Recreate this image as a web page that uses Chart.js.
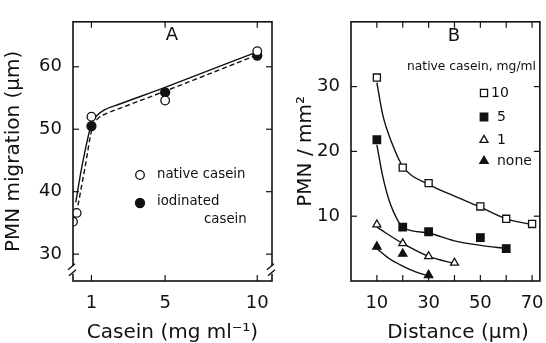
<!DOCTYPE html>
<html>
<head>
<meta charset="utf-8">
<script src="https://cdn.jsdelivr.net/npm/chart.js@4/dist/chart.umd.min.js"></script>
<style>
  html, body { margin: 0; padding: 0; background: #fff; overflow: hidden; }
  #wrap { position: relative; width: 546px; height: 343px; }
  #chartA { position: absolute; left: 0; top: 0; width: 285px; height: 343px; }
  #chartB { position: absolute; left: 290px; top: 0; width: 266px; height: 343px; }
</style>
</head>
<body>
<div id="wrap">
  <canvas id="chartA" width="285" height="343"></canvas>
  <canvas id="chartB" width="266" height="343"></canvas>
</div>
<script>
// ---- panel A: migration vs casein concentration ----
const caseinNative = [0, 0.2, 1, 5, 10];
const migrationNative = [35.2, 36.6, 52.0, 54.6, 62.5];
const caseinIodinated = [1, 5, 10];
const migrationIodinated = [50.5, 55.9, 61.8];
// fitted curves
const fitNativeX = [0.15, 0.45, 1, 1.3, 1.7, 2.5, 5, 10];
const fitNativeY = [38.3, 43.5, 50.8, 52.2, 53.1, 54.0, 56.7, 62.4];
const fitIodinatedX = [0.27, 0.63, 1.05, 1.35, 1.8, 2.5, 5, 10];
const fitIodinatedY = [37.8, 43.5, 50.3, 51.7, 52.5, 53.3, 56.1, 61.9];
const caseinTicks = [1, 5, 10];
const migrationTicks = [30, 40, 50, 60];

// ---- panel B: PMN density vs distance ----
const dist10 = [10, 20, 30, 50, 60, 70];
const pmn10 = [31.4, 17.5, 15.1, 11.5, 9.6, 8.8];
const dist5 = [10, 20, 30, 50, 60];
const pmn5 = [21.8, 8.3, 7.6, 6.7, 5.0];
const dist1 = [10, 20, 30, 40];
const pmn1 = [8.7, 5.8, 3.8, 2.8];
const distNone = [10, 20, 30];
const pmnNone = [5.3, 4.2, 0.9];
const fit10X = [10, 12.3, 16, 20, 30, 40, 50, 60, 70];
const fit10Y = [30.6, 25.6, 21.1, 17.7, 14.9, 13.1, 11.4, 9.6, 8.7];
const fit5X = [10, 12.3, 15, 18, 20, 30, 40, 50, 60];
const fit5Y = [21.0, 16.1, 12.1, 9.4, 8.3, 7.4, 6.2, 5.5, 5.0];
const fit1X = [10, 20, 30, 40];
const fit1Y = [8.3, 5.8, 3.8, 2.7];
const fitNoneX = [10, 15, 20, 25, 30];
const fitNoneY = [5.0, 3.4, 2.3, 1.4, 0.8];
const distanceTickLabels = [10, 30, 50, 70];
const distanceTickMarks = [10, 20, 30, 40, 50, 60, 70];
const pmnTicks = [10, 20, 30];

const INK = '#111';
const FONT = 'DejaVu Sans';
Chart.defaults.font.family = FONT;
Chart.defaults.color = INK;

const pts = (xs, ys) => xs.map((x, i) => ({ x: x, y: ys[i] }));

function marks(xs, ys, style, filled, r) {
  return {
    data: pts(xs, ys), showLine: false,
    pointStyle: style, pointRadius: r,
    pointBackgroundColor: filled ? INK : '#fff',
    pointBorderColor: INK, pointBorderWidth: 1.3
  };
}
function curve(xs, ys, dash) {
  return {
    data: pts(xs, ys), showLine: true, pointRadius: 0,
    borderColor: INK, borderWidth: 1.4, borderDash: dash || [],
    cubicInterpolationMode: 'monotone', order: 10
  };
}

// frame with inward ticks on all four sides, optional axis break
const frame = {
  id: 'frame',
  afterDraw(chart, args, o) {
    const { ctx, chartArea: a } = chart;
    const x = chart.scales.x, y = chart.scales.y;
    const line = (x1, y1, x2, y2) => { ctx.beginPath(); ctx.moveTo(x1, y1); ctx.lineTo(x2, y2); ctx.stroke(); };
    ctx.save();
    ctx.strokeStyle = INK;
    ctx.lineWidth = 1.6;
    ctx.strokeRect(a.left, a.top, a.right - a.left, a.bottom - a.top);
    ctx.lineWidth = 1.2;
    o.xMarks.forEach(v => {
      const px = x.getPixelForValue(v);
      line(px, a.bottom, px, a.bottom - 6);
      line(px, a.top, px, a.top + 6);
    });
    o.yMarks.forEach(v => {
      const py = y.getPixelForValue(v);
      line(a.left, py, a.left + 6, py);
      line(a.right, py, a.right - 6, py);
    });
    if (o.breakAt) {
      const py = y.getPixelForValue(o.breakAt);
      [a.left, a.right].forEach(px => {
        ctx.fillStyle = '#fff';
        ctx.fillRect(px - 3, py - 4, 6, 8);
        ctx.lineWidth = 1.4;
        line(px - 5, py, px + 2, py - 6);
        line(px - 4, py + 6, px + 3, py);
      });
    }
    ctx.restore();
  }
};

// panel letter, hand-placed key and any free text
const key = {
  id: 'key',
  afterDraw(chart, args, o) {
    const ctx = chart.ctx;
    ctx.save();
    ctx.fillStyle = INK;
    ctx.strokeStyle = INK;
    ctx.textBaseline = 'middle';
    ctx.textAlign = 'center';
    ctx.font = '18px "' + FONT + '"';
    ctx.fillText(o.letter[0], o.letter[1], o.letter[2]);
    (o.texts || []).forEach(t => {
      ctx.textAlign = t[4] || 'left';
      ctx.font = t[3] + 'px "' + FONT + '"';
      ctx.fillText(t[0], t[1], t[2]);
    });
    (o.symbols || []).forEach(s => {
      ctx.fillStyle = s.filled ? INK : '#fff';
      ctx.lineWidth = 1.3;
      Chart.helpers.drawPoint(ctx, { pointStyle: s.style, radius: s.r, borderWidth: 1.3, rotation: 0 }, s.x, s.y);
    });
    ctx.restore();
  }
};

const tickFont = { family: FONT, size: 18 };
const titleFont = { family: FONT, size: 20, lineHeight: 1 };

// ---------- panel A ----------
new Chart(document.getElementById('chartA'), {
  type: 'scatter',
  data: {
    datasets: [
      marks(caseinNative, migrationNative, 'circle', false, 4.3),
      marks(caseinIodinated, migrationIodinated, 'circle', true, 4.5),
      curve(fitNativeX, fitNativeY),
      curve(fitIodinatedX, fitIodinatedY, [5, 3])
    ]
  },
  options: {
    responsive: false, animation: false, events: [],
    layout: { padding: { left: 0, right: 13, top: 14, bottom: 0 } },
    plugins: {
      legend: { display: false }, tooltip: { enabled: false },
      frame: { xMarks: caseinTicks, yMarks: migrationTicks, breakAt: 27.5 },
      key: {
        letter: ['A', 172, 35],
        texts: [['native casein', 157, 175, 13.3], ['iodinated', 157, 202, 13.3], ['casein', 204, 220, 13.3]],
        symbols: [
          { style: 'circle', filled: false, r: 4.3, x: 140, y: 175 },
          { style: 'circle', filled: true, r: 4.5, x: 140, y: 203 }
        ]
      }
    },
    scales: {
      x: {
        type: 'linear', min: 0, max: 10.8,
        afterBuildTicks: s => { s.ticks = caseinTicks.map(v => ({ value: v })); },
        afterFit: s => { s.height = 62; },
        grid: { display: false, drawTicks: false }, border: { display: false },
        ticks: { font: tickFont, padding: 12, maxRotation: 0, color: INK },
        title: { display: true, text: 'Casein (mg ml⁻¹)', font: titleFont, color: INK, padding: { top: 0, bottom: 0 } }
      },
      y: {
        min: 25.7, max: 67.2,
        afterBuildTicks: s => { s.ticks = migrationTicks.map(v => ({ value: v })); },
        afterFit: s => { s.width = 73; },
        grid: { display: false, drawTicks: false }, border: { display: false },
        ticks: { font: tickFont, padding: 11, color: INK },
        title: { display: true, text: 'PMN migration (μm)', font: { family: FONT, size: 20 }, color: INK, padding: { top: 2, bottom: 0 } }
      }
    }
  },
  plugins: [frame, key]
});

// ---------- panel B ----------
new Chart(document.getElementById('chartB'), {
  type: 'scatter',
  data: {
    datasets: [
      marks(dist10, pmn10, 'rect', false, 5),
      marks(dist5, pmn5, 'rect', true, 5.3),
      marks(dist1, pmn1, 'triangle', false, 4.6),
      marks(distNone, pmnNone, 'triangle', true, 4.8),
      curve(fit10X, fit10Y),
      curve(fit5X, fit5Y),
      curve(fit1X, fit1Y),
      curve(fitNoneX, fitNoneY)
    ]
  },
  options: {
    responsive: false, animation: false, events: [],
    layout: { padding: { left: 0, right: 11, top: 13, bottom: 0 } },
    plugins: {
      legend: { display: false }, tooltip: { enabled: false },
      frame: { xMarks: distanceTickMarks, yMarks: pmnTicks },
      key: {
        letter: ['B', 164, 36],
        texts: [
          ['native casein, mg/ml', 117, 67, 12.3],
          ['10', 201, 93, 14], ['5', 207, 117, 14], ['1', 207, 140, 14], ['none', 207, 161, 14],
          ['Distance (μm)', 168, 333, 20, 'center']
        ],
        symbols: [
          { style: 'rect', filled: false, r: 5, x: 194, y: 93 },
          { style: 'rect', filled: true, r: 5.3, x: 194, y: 117 },
          { style: 'triangle', filled: false, r: 4.6, x: 194, y: 140 },
          { style: 'triangle', filled: true, r: 4.8, x: 194, y: 161 }
        ]
      }
    },
    scales: {
      x: {
        type: 'linear', min: 0, max: 73,
        afterBuildTicks: s => { s.ticks = distanceTickLabels.map(v => ({ value: v })); },
        afterFit: s => { s.height = 62; },
        grid: { display: false, drawTicks: false }, border: { display: false },
        ticks: { font: tickFont, padding: 12, maxRotation: 0, color: INK },
        title: { display: false }
      },
      y: {
        min: 0, max: 40,
        afterBuildTicks: s => { s.ticks = pmnTicks.map(v => ({ value: v })); },
        afterFit: s => { s.width = 61; },
        grid: { display: false, drawTicks: false }, border: { display: false },
        ticks: { font: tickFont, padding: 11, color: INK },
        title: { display: true, text: 'PMN / mm²', font: { family: FONT, size: 20 }, color: INK, padding: { top: 4, bottom: 0 } }
      }
    }
  },
  plugins: [frame, key]
});
</script>
</body>
</html>
